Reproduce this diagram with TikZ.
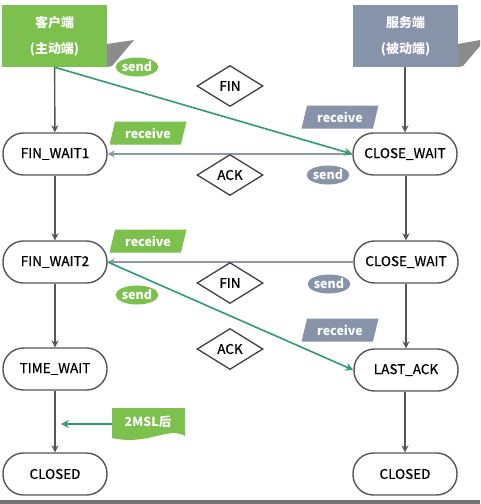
\documentclass[tikz,border=0pt]{standalone}
\usepackage{fontspec}
\setmainfont{Noto Sans CJK SC}
\newfontfamily\semib{Noto Sans CJK SC}[FakeBold=0.6]
\usetikzlibrary{shapes.geometric,arrows.meta}
\definecolor{cgreen}{HTML}{7CC04E}
\definecolor{cslate}{HTML}{8693A9}
\definecolor{cteal}{HTML}{2E9C6C}
\definecolor{cline}{HTML}{555555}
\definecolor{cgline}{HTML}{8C97AA}
\tikzset{
  state/.style={draw=cline,line width=1.4pt,rectangle,rounded corners=20.5pt,fill=white,
    minimum width=104pt,minimum height=42pt,inner sep=0pt,font=\fontsize{13.5}{15}\selectfont\semib},
  endbox/.style={rectangle,minimum width=105pt,minimum height=62pt,inner sep=0pt,
    text=white,align=center,font=\fontsize{13}{26}\selectfont\bfseries},
  msg/.style={draw=black!75,line width=1.3pt,diamond,aspect=1.6,minimum width=66pt,minimum height=41pt,
    inner sep=0pt,fill=white,font=\fontsize{13.5}{15}\selectfont\semib},
  sendlbl/.style={ellipse,minimum width=42pt,minimum height=19pt,inner sep=0pt,text=white,
    font=\fontsize{12.5}{13}\selectfont\bfseries},
  recvlbl/.style={trapezium,trapezium left angle=70,trapezium right angle=110,trapezium stretches=true,
    minimum width=77pt,minimum height=23pt,inner sep=0pt,text=white,font=\fontsize{12.5}{13}\selectfont\bfseries},
  vflow/.style={draw=cline,line width=1.4pt,-{Stealth[length=7pt,width=7pt]}},
  back/.style={draw=cgline,line width=1.4pt,-{Stealth[length=7pt,width=7pt,open,fill=white]}},
  forth/.style={draw=cteal,line width=1.6pt,-{Stealth[length=8pt,width=8pt]}},
}
\begin{document}
\begin{tikzpicture}[x=1pt,y=-1pt]
\useasboundingbox (0,0) rectangle (480,504);
\fill[white] (0,0) rectangle (480,504);
\fill[black!55] (0,500) rectangle (480,504);
% shadows of the top boxes
\fill[black!45] (107,44) -- (134,40) -- (112,66) -- (107,67) -- cycle;
\fill[black!45] (458,44) -- (480,40) -- (480,46) -- (463,66) -- (458,67) -- cycle;
% end boxes
\node[endbox,fill=cgreen] (client) at (54.5,36) {客户端\\(主动端)};
\node[endbox,fill=cslate] (server) at (405.5,36) {服务端\\(被动端)};
% states
\node[state] (fw1) at (55,154) {FIN\_WAIT1};
\node[state] (cw1) at (405,154) {CLOSE\_WAIT};
\node[state] (fw2) at (55,262) {FIN\_WAIT2};
\node[state] (cw2) at (406,262) {CLOSE\_WAIT};
\node[state] (tw) at (55,369) {TIME\_WAIT};
\node[state] (la) at (406,370) {LAST\_ACK};
\node[state] (cl1) at (55,474) {CLOSED};
\node[state] (cl2) at (405,474) {CLOSED};
% vertical flows
\draw[vflow] (client) -- (fw1);
\draw[vflow] (fw1) -- (fw2);
\draw[vflow] (fw2) -- (tw);
\draw[vflow] (tw) -- (cl1);
\draw[vflow] (server.south -| cw1) -- (cw1);
\draw[vflow] (cw1.south -| cw2) -- (cw2);
\draw[vflow] (cw2) -- (la);
\draw[vflow] (la.south -| cl2) -- (cl2);
% messages
\draw[back] (cw1.west) -- (fw1.east);
\draw[back] (cw2.west) -- (fw2.east);
\draw[forth] (client.south) -- (cw1.west);
\draw[forth] (fw2.east) -- (la.west);
\node[msg] (fin1) at (230,86) {FIN};
\node[msg] (ack1) at (230,175) {ACK};
\node[msg] (fin2) at (230,283) {FIN};
\node[msg] (ack2) at (230,349) {ACK};
% labels
\node[sendlbl,fill=cgreen] (s1) at (137,67) {send};
\node[recvlbl,fill=cgreen] (r1) at (148,133) {receive};
\node[recvlbl,fill=cslate] (r2) at (340,117) {receive};
\node[sendlbl,fill=cslate] (s2) at (328,175) {send};
\node[recvlbl,fill=cgreen] (r3) at (148,241) {receive};
\node[sendlbl,fill=cgreen] (s3) at (137,295) {send};
\node[sendlbl,fill=cslate] (s4) at (329,284) {send};
\node[recvlbl,fill=cslate] (r4) at (340,330) {receive};
% 2MSL tag
\fill[cgreen] (112,408) -- (185,408) -- (185,436) .. controls (168,426) and (148,446) .. (112,438) -- cycle;
\node[text=white,font=\fontsize{12.5}{13}\selectfont\bfseries,inner sep=0pt] (msl) at (148,422) {2MSL后};
\coordinate (mslin) at (112,424);
\coordinate (tip) at (61,424);
\draw[forth] (mslin) -- (tip);
\end{tikzpicture}
\end{document}
